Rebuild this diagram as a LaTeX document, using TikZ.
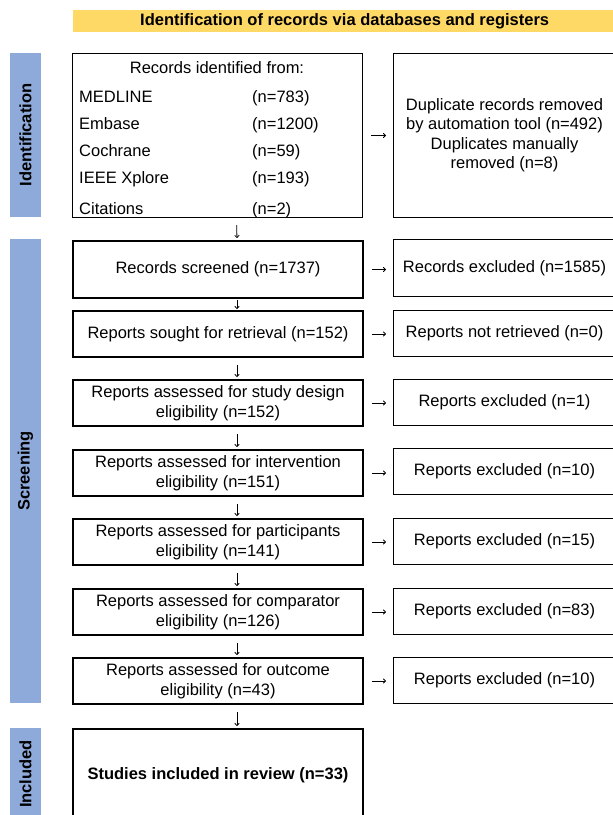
\documentclass[tikz,border=0pt]{standalone}
\usepackage{fontspec}
\setmainfont{Liberation Sans}
\usetikzlibrary{arrows.meta,positioning,calc}
\definecolor{barblue}{HTML}{8EAADB}
\definecolor{headyellow}{HTML}{FFD966}

\begin{document}
\begin{tikzpicture}[
    x=1pt, y=-1pt,
    every node/.style={inner sep=0pt, font=\fontsize{16.5}{19.5}\selectfont},
    phase/.style={fill=barblue, rotate=90, minimum height=31pt, font=\bfseries\fontsize{16.5}{19.5}\selectfont},
    header/.style={fill=headyellow, anchor=north west, minimum width=543pt, minimum height=22pt, font=\bfseries\fontsize{16.5}{19.5}\selectfont},
    idbox/.style={draw, line width=1pt, anchor=north west, align=center, minimum height=164pt},
    stage/.style={draw, line width=2pt, anchor=north west, align=center, minimum width=290pt, minimum height=46pt},
    excl/.style={draw, line width=1pt, anchor=north west, align=center, minimum width=222pt, minimum height=46pt},
    arrow/.style={-{To[length=3pt,width=5pt]}, line width=0.8pt},
    down/.style={arrow, shorten <=7pt, shorten >=2pt},
    side/.style={arrow, shorten <=8pt, shorten >=7pt}
  ]
    \useasboundingbox (0,0) rectangle (613,815);
    \clip (0,0) rectangle (613,815);

    % phase bars and header
    \node (head) [header] at (73,10) {Identification of records via databases and registers};
    \node (phid) [phase, minimum width=164pt] at (25.5,135) {Identification};
    \node (phscr) [phase, minimum width=464pt] at (25.5,471) {Screening};
    \node (phinc) [phase, minimum width=92pt] at (25.5,774) {Included};

    % identification
    \node (ident) [idbox, minimum width=290pt] at (72,53) {};
    \node (idtitle) at (217,68) {Records identified from:};
    \node (sources) [anchor=base west, align=left] at (79,102) {\renewcommand{\arraystretch}{1.385}%
      \begin{tabular}[t]{@{}p{173pt}@{}l@{}}
        MEDLINE & (n=783)\\
        Embase & (n=1200)\\
        Cochrane & (n=59)\\
        IEEE Xplore & (n=193)\\[4pt]
        Citations & (n=2)
      \end{tabular}};
    \node (dupl) [idbox, minimum width=222pt] at (393,53) {\raisebox{-3pt}{\begin{tabular}{@{}c@{}}Duplicate records removed\\by automation tool (n=492)\\Duplicates manually\\removed (n=8)\end{tabular}}};

    % screening
    \node (scr) [stage, minimum height=57pt] at (72,240) {Records screened (n=1737)};
    \node (exscr) [excl, minimum height=57pt] at (393,239) {Records excluded (n=1585)};
    \node (sought) [stage] at (72,310) {Reports sought for retrieval (n=152)};
    \node (notret) [excl] at (393,310) {Reports not retrieved (n=0)};
    \node (design) [stage] at (72,379) {Reports assessed for study design\\eligibility (n=152)};
    \node (exdesign) [excl] at (393,379) {Reports excluded (n=1)};
    \node (interv) [stage] at (72,449) {Reports assessed for intervention\\eligibility (n=151)};
    \node (exinterv) [excl] at (393,448) {Reports excluded (n=10)};
    \node (partic) [stage] at (72,518) {Reports assessed for participants\\eligibility (n=141)};
    \node (expartic) [excl] at (393,518) {Reports excluded (n=15)};
    \node (compar) [stage] at (72,588) {Reports assessed for comparator\\eligibility (n=126)};
    \node (excompar) [excl] at (393,588) {Reports excluded (n=83)};
    \node (outcome) [stage] at (72,657) {Reports assessed for outcome\\eligibility (n=43)};
    \node (exoutcome) [excl] at (393,657) {Reports excluded (n=10)};

    % included
    \node (incl) [stage, minimum height=92pt, font=\bfseries\fontsize{16.5}{19.5}\selectfont] at (72,728) {Studies included in review (n=33)};

    \draw [down] ([xshift=19pt]ident.south) -- ([xshift=19pt]scr.north);
    \draw [arrow, shorten <=1pt, shorten >=1pt] ([xshift=19pt]scr.south) -- ([xshift=19pt]sought.north);
    \draw [down] ([xshift=19pt]sought.south) -- ([xshift=19pt]design.north);
    \draw [down] ([xshift=19pt]design.south) -- ([xshift=19pt]interv.north);
    \draw [down] ([xshift=19pt]interv.south) -- ([xshift=19pt]partic.north);
    \draw [down] ([xshift=19pt]partic.south) -- ([xshift=19pt]compar.north);
    \draw [down] ([xshift=19pt]compar.south) -- ([xshift=19pt]outcome.north);
    \draw [down] ([xshift=19pt]outcome.south) -- ([xshift=19pt]incl.north);

    \draw [side] (ident.east) -- (ident.east -| dupl.west);
    \draw [side] (scr.east) -- (scr.east -| exscr.west);
    \draw [side] (sought.east) -- (sought.east -| notret.west);
    \draw [side] (design.east) -- (design.east -| exdesign.west);
    \draw [side] (interv.east) -- (interv.east -| exinterv.west);
    \draw [side] (partic.east) -- (partic.east -| expartic.west);
    \draw [side] (compar.east) -- (compar.east -| excompar.west);
    \draw [side] (outcome.east) -- (outcome.east -| exoutcome.west);
  \end{tikzpicture}
\end{document}
